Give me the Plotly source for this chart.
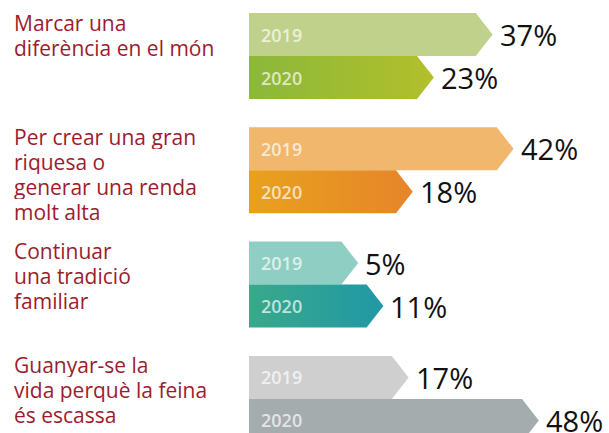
import plotly.graph_objects as go

# ---- data ----
categories = [
    "Marcar una<br>diferència en el món",
    "Per crear una gran<br>riquesa o<br>generar una renda<br>molt alta",
    "Continuar<br>una tradició<br>familiar",
    "Guanyar-se la<br>vida perquè la feina<br>és escassa",
]
years = ["2019", "2020"]
values_2019 = [37, 42, 5, 17]
values_2020 = [23, 18, 11, 48]

# ---- styles ----
colors_2019 = ["#bfd18a", "#f0b76d", "#8fcfc3", "#cfcfcf"]
grad_2020 = [("#8bb83a", "#b2bf2b"), ("#e8a11e", "#e6852a"),
             ("#39a98a", "#2198a5"), ("#a5acae", "#a5acae")]
LABEL_COLOR = "#9b1c2e"

W, H = 609, 433
K = 4.2          # px per percent
BASE = 21        # visual offset (percent units) of bar start
X0_PX = 249      # bar left edge in px
TIP = 4          # arrow tip depth (percent units)
BAR_H = 43       # bar height (px units on y axis)
GROUP_TOP0 = 13
GROUP_STEP = 114.3
LINE_H = 25

x_start = -BASE
x_min = -BASE - X0_PX / K
x_max = (W - X0_PX) / K - BASE

fig = go.Figure()

for g, cat in enumerate(categories):
    top = GROUP_TOP0 + g * GROUP_STEP
    for j, (yr, vals) in enumerate(zip(years, [values_2019, values_2020])):
        v = vals[g]
        y0 = top + j * BAR_H
        y1 = y0 + BAR_H
        ym = (y0 + y1) / 2
        xs = [x_start, v - TIP, v, v - TIP, x_start, x_start]
        ys = [y0, y0, ym, y1, y1, y0]
        if j == 0:
            fig.add_trace(go.Scatter(x=xs, y=ys, mode="lines", fill="toself",
                                     fillcolor=colors_2019[g], line=dict(width=0),
                                     hoverinfo="skip", showlegend=False))
        else:
            c1, c2 = grad_2020[g]
            fig.add_trace(go.Scatter(x=xs, y=ys, mode="lines", fill="toself",
                                     fillgradient=dict(type="horizontal",
                                                       colorscale=[[0, c1], [1, c2]]),
                                     line=dict(width=0),
                                     hoverinfo="skip", showlegend=False))
        # year label inside bar
        fig.add_annotation(x=x_start, y=ym, text=yr, showarrow=False,
                           xanchor="left", yanchor="middle", xshift=10,
                           font=dict(family="Open Sans", size=18,
                                     color="rgba(255,255,255,0.7)", weight=600))
        # value label
        fig.add_annotation(x=v, y=ym, text=f"{v}%", showarrow=False,
                           xanchor="left", yanchor="middle", xshift=5,
                           font=dict(family="Open Sans", size=29, color="#111111"))
    # category label, one annotation per line
    for li, line in enumerate(cat.split("<br>")):
        fig.add_annotation(xref="paper", x=12 / W, y=top + 9 + li * LINE_H,
                           text=line, showarrow=False, height=LINE_H,
                           xanchor="left", yanchor="middle", align="left",
                           font=dict(family="Open Sans", size=21, color=LABEL_COLOR))

fig.update_layout(
    width=W, height=H,
    margin=dict(l=0, r=0, t=0, b=0),
    paper_bgcolor="white", plot_bgcolor="white",
    xaxis=dict(range=[x_min, x_max], visible=False, fixedrange=True),
    yaxis=dict(range=[H, 0], visible=False, fixedrange=True),
    showlegend=False,
)

fig.write_html("out.html", config={"displayModeBar": False},
               post_script="document.body.style.margin='0';document.body.style.overflow='hidden';")
